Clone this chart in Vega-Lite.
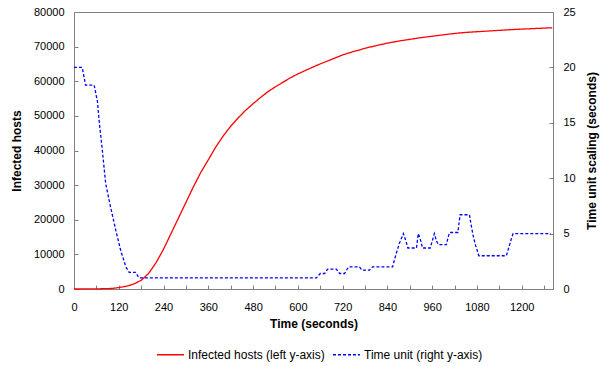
{
  "$schema": "https://vega.github.io/schema/vega-lite/v6.json",
  "width": 479,
  "height": 277,
  "autosize": {"type": "none"},
  "padding": {"left": 74, "top": 12, "right": 47, "bottom": 77},
  "config": {
    "font": "Liberation Sans",
    "view": {"stroke": "#808080", "strokeWidth": 1},
    "axis": {
      "grid": false,
      "domainColor": "#808080",
      "tickColor": "#808080",
      "labelColor": "#000000",
      "titleColor": "#000000",
      "labelFontSize": 11,
      "titleFontSize": 12,
      "titleFontWeight": "bold",
      "tickSize": -4,
      "labelPadding": 14
    },
    "legend": {"labelFontSize": 12, "labelColor": "#000000"}
  },
  "datasets": {
    "hosts": [
      {"t": 0, "hosts": 0, "series": "Infected hosts (left y-axis)"},
      {"t": 60, "hosts": 30, "series": "Infected hosts (left y-axis)"},
      {"t": 100, "hosts": 150, "series": "Infected hosts (left y-axis)"},
      {"t": 120, "hosts": 400, "series": "Infected hosts (left y-axis)"},
      {"t": 140, "hosts": 800, "series": "Infected hosts (left y-axis)"},
      {"t": 160, "hosts": 1400, "series": "Infected hosts (left y-axis)"},
      {"t": 180, "hosts": 2500, "series": "Infected hosts (left y-axis)"},
      {"t": 200, "hosts": 4500, "series": "Infected hosts (left y-axis)"},
      {"t": 220, "hosts": 7600, "series": "Infected hosts (left y-axis)"},
      {"t": 240, "hosts": 11500, "series": "Infected hosts (left y-axis)"},
      {"t": 260, "hosts": 16000, "series": "Infected hosts (left y-axis)"},
      {"t": 280, "hosts": 20500, "series": "Infected hosts (left y-axis)"},
      {"t": 300, "hosts": 25000, "series": "Infected hosts (left y-axis)"},
      {"t": 320, "hosts": 29500, "series": "Infected hosts (left y-axis)"},
      {"t": 340, "hosts": 33700, "series": "Infected hosts (left y-axis)"},
      {"t": 360, "hosts": 37300, "series": "Infected hosts (left y-axis)"},
      {"t": 380, "hosts": 41000, "series": "Infected hosts (left y-axis)"},
      {"t": 400, "hosts": 44200, "series": "Infected hosts (left y-axis)"},
      {"t": 420, "hosts": 47000, "series": "Infected hosts (left y-axis)"},
      {"t": 440, "hosts": 49400, "series": "Infected hosts (left y-axis)"},
      {"t": 460, "hosts": 51600, "series": "Infected hosts (left y-axis)"},
      {"t": 480, "hosts": 53500, "series": "Infected hosts (left y-axis)"},
      {"t": 500, "hosts": 55300, "series": "Infected hosts (left y-axis)"},
      {"t": 520, "hosts": 57000, "series": "Infected hosts (left y-axis)"},
      {"t": 540, "hosts": 58400, "series": "Infected hosts (left y-axis)"},
      {"t": 560, "hosts": 59700, "series": "Infected hosts (left y-axis)"},
      {"t": 580, "hosts": 61000, "series": "Infected hosts (left y-axis)"},
      {"t": 600, "hosts": 62100, "series": "Infected hosts (left y-axis)"},
      {"t": 630, "hosts": 63600, "series": "Infected hosts (left y-axis)"},
      {"t": 660, "hosts": 65000, "series": "Infected hosts (left y-axis)"},
      {"t": 690, "hosts": 66300, "series": "Infected hosts (left y-axis)"},
      {"t": 720, "hosts": 67600, "series": "Infected hosts (left y-axis)"},
      {"t": 750, "hosts": 68600, "series": "Infected hosts (left y-axis)"},
      {"t": 780, "hosts": 69500, "series": "Infected hosts (left y-axis)"},
      {"t": 810, "hosts": 70300, "series": "Infected hosts (left y-axis)"},
      {"t": 840, "hosts": 71000, "series": "Infected hosts (left y-axis)"},
      {"t": 870, "hosts": 71600, "series": "Infected hosts (left y-axis)"},
      {"t": 900, "hosts": 72100, "series": "Infected hosts (left y-axis)"},
      {"t": 930, "hosts": 72600, "series": "Infected hosts (left y-axis)"},
      {"t": 960, "hosts": 73000, "series": "Infected hosts (left y-axis)"},
      {"t": 990, "hosts": 73400, "series": "Infected hosts (left y-axis)"},
      {"t": 1020, "hosts": 73800, "series": "Infected hosts (left y-axis)"},
      {"t": 1050, "hosts": 74100, "series": "Infected hosts (left y-axis)"},
      {"t": 1080, "hosts": 74300, "series": "Infected hosts (left y-axis)"},
      {"t": 1110, "hosts": 74500, "series": "Infected hosts (left y-axis)"},
      {"t": 1140, "hosts": 74700, "series": "Infected hosts (left y-axis)"},
      {"t": 1170, "hosts": 74900, "series": "Infected hosts (left y-axis)"},
      {"t": 1200, "hosts": 75050, "series": "Infected hosts (left y-axis)"},
      {"t": 1230, "hosts": 75200, "series": "Infected hosts (left y-axis)"},
      {"t": 1260, "hosts": 75350, "series": "Infected hosts (left y-axis)"},
      {"t": 1282, "hosts": 75450, "series": "Infected hosts (left y-axis)"}
    ],
    "unit": [
      {"t": 0, "unit": 20, "series": "Time unit (right y-axis)"},
      {"t": 22, "unit": 20, "series": "Time unit (right y-axis)"},
      {"t": 31, "unit": 18.4, "series": "Time unit (right y-axis)"},
      {"t": 54, "unit": 18.4, "series": "Time unit (right y-axis)"},
      {"t": 63, "unit": 16.9, "series": "Time unit (right y-axis)"},
      {"t": 67, "unit": 15.3, "series": "Time unit (right y-axis)"},
      {"t": 76, "unit": 12.5, "series": "Time unit (right y-axis)"},
      {"t": 85, "unit": 9.5, "series": "Time unit (right y-axis)"},
      {"t": 98, "unit": 7.4, "series": "Time unit (right y-axis)"},
      {"t": 112, "unit": 5.3, "series": "Time unit (right y-axis)"},
      {"t": 125, "unit": 3.5, "series": "Time unit (right y-axis)"},
      {"t": 139, "unit": 2.0, "series": "Time unit (right y-axis)"},
      {"t": 148, "unit": 1.5, "series": "Time unit (right y-axis)"},
      {"t": 165, "unit": 1.5, "series": "Time unit (right y-axis)"},
      {"t": 174, "unit": 1.0, "series": "Time unit (right y-axis)"},
      {"t": 650, "unit": 1.0, "series": "Time unit (right y-axis)"},
      {"t": 660, "unit": 1.4, "series": "Time unit (right y-axis)"},
      {"t": 672, "unit": 1.4, "series": "Time unit (right y-axis)"},
      {"t": 680, "unit": 1.8, "series": "Time unit (right y-axis)"},
      {"t": 703, "unit": 1.8, "series": "Time unit (right y-axis)"},
      {"t": 712, "unit": 1.4, "series": "Time unit (right y-axis)"},
      {"t": 725, "unit": 1.4, "series": "Time unit (right y-axis)"},
      {"t": 736, "unit": 2.0, "series": "Time unit (right y-axis)"},
      {"t": 765, "unit": 2.0, "series": "Time unit (right y-axis)"},
      {"t": 772, "unit": 1.7, "series": "Time unit (right y-axis)"},
      {"t": 792, "unit": 1.7, "series": "Time unit (right y-axis)"},
      {"t": 800, "unit": 2.0, "series": "Time unit (right y-axis)"},
      {"t": 854, "unit": 2.0, "series": "Time unit (right y-axis)"},
      {"t": 862, "unit": 3.0, "series": "Time unit (right y-axis)"},
      {"t": 872, "unit": 4.1, "series": "Time unit (right y-axis)"},
      {"t": 883, "unit": 5.0, "series": "Time unit (right y-axis)"},
      {"t": 890, "unit": 4.3, "series": "Time unit (right y-axis)"},
      {"t": 895, "unit": 3.7, "series": "Time unit (right y-axis)"},
      {"t": 918, "unit": 3.7, "series": "Time unit (right y-axis)"},
      {"t": 923, "unit": 5.0, "series": "Time unit (right y-axis)"},
      {"t": 930, "unit": 4.3, "series": "Time unit (right y-axis)"},
      {"t": 934, "unit": 3.7, "series": "Time unit (right y-axis)"},
      {"t": 955, "unit": 3.7, "series": "Time unit (right y-axis)"},
      {"t": 966, "unit": 5.0, "series": "Time unit (right y-axis)"},
      {"t": 972, "unit": 4.3, "series": "Time unit (right y-axis)"},
      {"t": 977, "unit": 4.0, "series": "Time unit (right y-axis)"},
      {"t": 998, "unit": 4.0, "series": "Time unit (right y-axis)"},
      {"t": 1004, "unit": 4.8, "series": "Time unit (right y-axis)"},
      {"t": 1007, "unit": 5.1, "series": "Time unit (right y-axis)"},
      {"t": 1029, "unit": 5.1, "series": "Time unit (right y-axis)"},
      {"t": 1035, "unit": 6.7, "series": "Time unit (right y-axis)"},
      {"t": 1060, "unit": 6.7, "series": "Time unit (right y-axis)"},
      {"t": 1064, "unit": 5.9, "series": "Time unit (right y-axis)"},
      {"t": 1070, "unit": 4.8, "series": "Time unit (right y-axis)"},
      {"t": 1076, "unit": 4.0, "series": "Time unit (right y-axis)"},
      {"t": 1085, "unit": 3.0, "series": "Time unit (right y-axis)"},
      {"t": 1159, "unit": 3.0, "series": "Time unit (right y-axis)"},
      {"t": 1166, "unit": 3.8, "series": "Time unit (right y-axis)"},
      {"t": 1172, "unit": 4.5, "series": "Time unit (right y-axis)"},
      {"t": 1177, "unit": 5.0, "series": "Time unit (right y-axis)"},
      {"t": 1278, "unit": 5.0, "series": "Time unit (right y-axis)"}
    ]
  },
  "encoding": {
    "x": {
      "field": "t",
      "type": "quantitative",
      "scale": {"domain": [0, 1284], "nice": false},
      "axis": {
        "title": "Time (seconds)",
        "format": "d",
        "values": [0, 60, 120, 180, 240, 300, 360, 420, 480, 540, 600, 660, 720, 780, 840, 900, 960, 1020, 1080, 1140, 1200, 1260],
        "labelExpr": "datum.value % 120 === 0 ? datum.label : ''",
        "labelPadding": 16,
        "titlePadding": 6,
        "labelFlush": false
      }
    },
    "color": {
      "field": "series",
      "type": "nominal",
      "scale": {"domain": ["Infected hosts (left y-axis)", "Time unit (right y-axis)"], "range": ["#ff0000", "#0000ff"]},
      "legend": {"title": null, "orient": "none", "legendX": 82, "legendY": 328, "direction": "horizontal", "symbolType": "stroke", "symbolSize": 730, "symbolStrokeWidth": 1.5, "labelLimit": 300, "labelOffset": 3, "columnPadding": 4}
    },
    "strokeDash": {
      "field": "series",
      "type": "nominal",
      "scale": {"domain": ["Infected hosts (left y-axis)", "Time unit (right y-axis)"], "range": [[1, 0], [3, 2]]},
      "legend": {"title": null, "orient": "none", "legendX": 82, "legendY": 328, "direction": "horizontal", "symbolType": "stroke", "symbolSize": 730, "symbolStrokeWidth": 1.5, "labelLimit": 300, "labelOffset": 3, "columnPadding": 4}
    }
  },
  "layer": [
    {
      "data": {"name": "hosts"},
      "mark": {"type": "line", "strokeWidth": 1.3},
      "encoding": {
        "y": {
          "field": "hosts",
          "type": "quantitative",
          "scale": {"domain": [0, 80000], "nice": false},
          "axis": {"title": "Infected hosts", "format": "d", "values": [0, 10000, 20000, 30000, 40000, 50000, 60000, 70000, 80000], "titlePadding": 10}
        }
      }
    },
    {
      "data": {"name": "unit"},
      "mark": {"type": "line", "strokeWidth": 1.3},
      "encoding": {
        "y": {
          "field": "unit",
          "type": "quantitative",
          "scale": {"domain": [0, 25], "nice": false},
          "axis": {"title": "Time unit scaling (seconds)", "titleAngle": 270, "orient": "right", "values": [0, 5, 10, 15, 20, 25], "titlePadding": 23}
        }
      }
    }
  ],
  "resolve": {"scale": {"y": "independent"}}
}
